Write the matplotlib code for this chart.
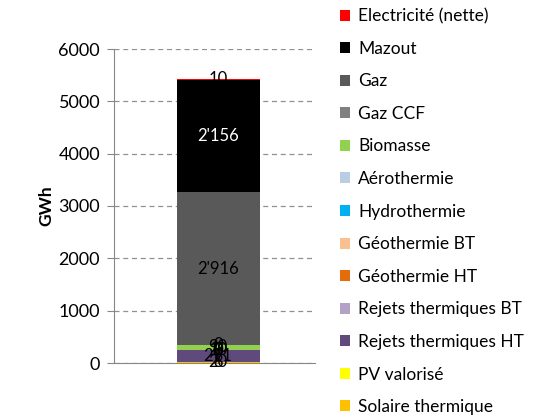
import numpy as np
import matplotlib
matplotlib.use("Agg")
from matplotlib import pyplot as plt
from matplotlib.patches import Patch

plt.rcParams['font.family'] = ['Lato', 'DejaVu Sans']

# stack order, bottom to top
sources = ['Solaire thermique', 'PV valorisé', 'Rejets thermiques HT',
           'Rejets thermiques BT', 'Géothermie HT', 'Géothermie BT',
           'Hydrothermie', 'Aérothermie', 'Biomasse', 'Gaz CCF', 'Gaz',
           'Mazout', 'Electricité (nette)']
values = [20, 8, 211, 0, 0, 10, 0, 3, 90, 0, 2916, 2156, 10]
colors = ['#FFC000', '#FFFF00', '#604A7B', '#B3A2C7', '#E46C0A', '#FAC090',
          '#00B0F0', '#B9CDE5', '#92D050', '#808080', '#595959',
          '#000000', '#FF0000']
label_colors = ['black'] * 11 + ['white', 'black']
yticks = [0, 1000, 2000, 3000, 4000, 5000, 6000]

fig = plt.figure(figsize=(5.33, 4.18), dpi=100)
ax = fig.add_axes([114/533, 1-363/418, 201/533, 314/418])

bottom = 0
for name, v, c, lc in zip(sources, values, colors, label_colors):
    ax.bar(0.018, v, width=0.413, bottom=bottom, color=c, zorder=3)
    txt = "{:,}".format(v).replace(',', "'")
    ax.text(0.018, bottom + v/2, txt, ha='center', va='center',
            fontsize=12, color=lc, zorder=4)
    bottom += v

ax.set_xlim(-0.5, 0.5)
ax.set_ylim(0, 6000)
ax.set_yticks(yticks)
ax.set_xticks([])
ax.tick_params(axis='y', labelsize=13, length=5, color='#868686', pad=5)
ax.yaxis.grid(True, linestyle=(0, (4, 3)), color='#909090', linewidth=0.9, zorder=0)
for s in ['top', 'right']:
    ax.spines[s].set_visible(False)
for s in ['left', 'bottom']:
    ax.spines[s].set_color('#868686')
ax.set_ylabel('GWh', fontsize=12.5, fontweight='bold', labelpad=3)

handles = [Patch(facecolor=c, edgecolor='none') for c in colors[::-1]]
fig.legend(handles, sources[::-1], loc='upper left',
           bbox_to_anchor=(327/533, 1.0 + 5/418), frameon=False,
           fontsize=12.5, handlelength=0.6, handleheight=0.6,
           handletextpad=0.46, labelspacing=0.955, borderpad=0.25)

fig.savefig('out.png', dpi=100)
